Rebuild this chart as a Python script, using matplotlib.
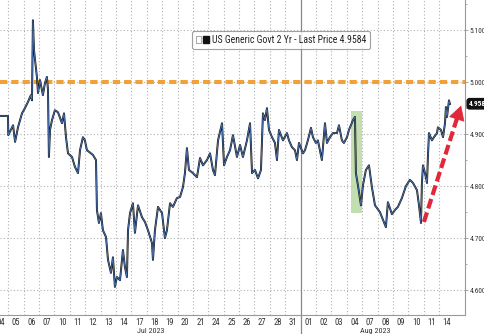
import matplotlib
matplotlib.use("Agg")
import matplotlib.pyplot as plt
from matplotlib.patches import Rectangle, Patch
from matplotlib.legend_handler import HandlerTuple
from matplotlib import font_manager
import numpy as np

# ---------------- data ----------------
day_labels = ['04', '05', '06', '07', '10', '11', '12', '13', '14', '17', '18', '19',
              '20', '21', '24', '25', '26', '27', '28', '31', '01', '02', '03', '04',
              '07', '08', '09', '10', '11', '14']
month_labels = ['Jul 2023', 'Aug 2023']
month_start_day = [0, 20]          # index of first trading day of each month

# session time in trading-day units (day i spans [i, i+1])
t_session = [0.00, 0.98, 1.00, 1.31, 1.44, 1.63, 1.89, 2.08, 2.28, 2.47, 2.54, 2.60,
             2.67, 2.74, 2.86, 2.93, 3.06, 3.25, 3.38, 3.51, 3.58, 3.64, 3.71, 3.84,
             4.03, 4.23, 4.49, 4.62, 4.75, 4.88, 5.14, 5.33, 5.53, 5.66, 5.85, 5.98,
             6.11, 6.37, 6.50, 6.70, 6.76, 6.89, 7.02, 7.15, 7.35, 7.48, 7.67, 7.80,
             7.93, 8.06, 8.26, 8.45, 8.58, 8.71, 8.78, 8.91, 9.10, 9.23, 9.43, 9.69,
             9.88, 10.08, 10.34, 10.40, 10.53, 10.73, 10.99, 11.18, 11.31, 11.51, 11.70,
             11.96, 12.16, 12.35, 12.48, 12.61, 12.74, 13.00, 13.26, 13.46, 13.65, 13.91,
             14.11, 14.30, 14.43, 14.63, 14.89, 15.02, 15.21, 15.41, 15.60, 15.86, 16.06,
             16.25, 16.51, 16.71, 16.84, 17.03, 17.23, 17.42, 17.55, 17.68, 17.81, 17.94,
             18.14, 18.33, 18.46, 18.59, 18.85, 19.11, 19.24, 19.43, 19.63, 19.76, 19.89,
             20.15, 20.28, 20.47, 20.67, 20.80, 20.99, 21.12, 21.38, 21.58, 21.71, 21.90,
             22.10, 22.36, 22.49, 22.68, 22.81, 23.01, 23.14, 23.40, 23.53, 23.59, 23.72,
             23.92, 24.05, 24.24, 24.44, 24.63, 24.83, 25.15, 25.35, 25.54, 25.67, 25.93,
             26.13, 26.32, 26.58, 26.84, 27.10, 27.30, 27.56, 27.69, 27.82, 27.88, 27.95,
             28.08, 28.21, 28.27, 28.34, 28.53, 28.66, 28.86, 28.92, 29.12, 29.25, 29.38,
             29.44, 29.51, 29.64, 29.70]
yield_2y = [4.935, 4.935, 4.898, 4.917, 4.885, 4.913, 4.940, 4.950, 4.962, 4.975, 4.965, 5.119,
            5.062, 5.042, 5.010, 4.979, 5.004, 4.975, 4.998, 5.010, 4.985, 4.856, 4.908, 4.927,
            4.946, 4.942, 4.921, 4.940, 4.894, 4.863, 4.856, 4.837, 4.825, 4.869, 4.894, 4.888,
            4.869, 4.863, 4.860, 4.850, 4.754, 4.729, 4.748, 4.715, 4.702, 4.658, 4.633, 4.663,
            4.606, 4.625, 4.619, 4.677, 4.644, 4.625, 4.715, 4.748, 4.767, 4.710, 4.763, 4.740,
            4.731, 4.715, 4.690, 4.658, 4.715, 4.760, 4.748, 4.700, 4.715, 4.767, 4.760,
            4.777, 4.779, 4.798, 4.825, 4.873, 4.831, 4.825, 4.817, 4.854, 4.840, 4.850,
            4.863, 4.831, 4.821, 4.888, 4.921, 4.840, 4.856, 4.869, 4.898, 4.856, 4.879,
            4.856, 4.888, 4.921, 4.825, 4.831, 4.815, 4.831, 4.940, 4.927, 4.950, 4.908,
            4.894, 4.883, 4.850, 4.908, 4.888, 4.902, 4.888, 4.875, 4.869, 4.850, 4.883,
            4.863, 4.869, 4.888, 4.912, 4.894, 4.883, 4.888, 4.850, 4.921, 4.883, 4.894,
            4.902, 4.902, 4.917, 4.888, 4.883, 4.894, 4.908, 4.927, 4.933, 4.825, 4.802,
            4.763, 4.802, 4.831, 4.840, 4.798, 4.763, 4.750, 4.735, 4.721, 4.769, 4.746,
            4.754, 4.760, 4.777, 4.800, 4.812, 4.806, 4.792, 4.763, 4.729, 4.806, 4.840,
            4.825, 4.806, 4.856, 4.902, 4.888, 4.894, 4.902, 4.913, 4.908, 4.894, 4.921,
            4.952, 4.933, 4.965, 4.958]

last_price = 4.9584
legend_text = 'US Generic Govt 2 Yr - Last Price 4.9584'
level_line = 5.000
highlight_t = (23.27, 23.98)
highlight_y = (4.748, 4.944)
arrow_from = (28.01, 4.731)
arrow_to = (30.48, 4.960)
y_ticks = [4.6, 4.7, 4.8, 4.9, 5.0, 5.1]
y_minor = [4.65, 4.75, 4.85, 4.95, 5.05, 5.15]

# ---------------- fonts ----------------
fl = font_manager.fontManager.ttflist
names = {f.name for f in fl}
stretch = 'normal'
if 'Liberation Sans Narrow' in names:
    fam = 'Liberation Sans Narrow'
elif 'Roboto Condensed' in names:
    fam = 'Roboto Condensed'
elif any(f.name == 'DejaVu Sans' and str(f.stretch) in ('condensed', '75', 'semi-condensed')
         for f in fl):
    fam = 'DejaVu Sans'
    stretch = 'condensed'
else:
    fam = 'Roboto'
plt.rcParams['font.family'] = [fam, 'DejaVu Sans']
plt.rcParams['font.stretch'] = stretch

W, H = 485, 334
fig = plt.figure(figsize=(W / 100, H / 100), dpi=100)
ax = fig.add_axes([0, 19 / H, 465 / W, 315 / H])
ax.set_xlim(0.4607, 30.68)
ax.set_ylim(4.552, 5.158)

txt = '#333333'
grid_c = '#b0b0b0'

# grids
for d in range(1, len(day_labels)):
    if d in month_start_day:
        continue
    ax.axvline(d, color=grid_c, lw=0.8, ls=(0, (1, 2)), zorder=0)
for yv in y_ticks:
    ax.axhline(yv, color=grid_c, lw=0.8, ls=(0, (1, 2)), zorder=0)

# month separator (extends below the axis)
for m in month_start_day[1:]:
    ax.axvline(m, color='#888888', lw=0.9, zorder=1)
    ax.plot([m, m], [0, -0.06], transform=ax.get_xaxis_transform(), color='#888888',
            lw=0.9, clip_on=False)

# highlight window
ax.add_patch(Rectangle((highlight_t[0], highlight_y[0]), highlight_t[1] - highlight_t[0],
                       highlight_y[1] - highlight_y[0], facecolor='#b9d9a3',
                       edgecolor='none', alpha=0.85, zorder=1))

# level line
ax.axhline(level_line, color='#f0a138', lw=2.9, dashes=(1.8, 1.0), zorder=2)

# series
ax.plot(t_session, yield_2y, color='#151515', lw=1.4, zorder=3)
ax.plot(t_session, yield_2y, color='#4a78bc', lw=0.6, zorder=4)

# red dashed arrow
ax.plot([arrow_from[0], arrow_from[0] + 0.93 * (arrow_to[0] - arrow_from[0])],
        [arrow_from[1], arrow_from[1] + 0.93 * (arrow_to[1] - arrow_from[1])],
        color='#e0283a', lw=3.0, dashes=(2.4, 1.0), solid_capstyle='butt', zorder=5,
        clip_on=False)
ax.annotate('', xy=arrow_to,
            xytext=(arrow_from[0] + 0.9 * (arrow_to[0] - arrow_from[0]),
                    arrow_from[1] + 0.9 * (arrow_to[1] - arrow_from[1])),
            arrowprops=dict(arrowstyle='-|>,head_width=0.45,head_length=0.8',
                            color='#e0283a', lw=0.5, mutation_scale=12),
            zorder=6, annotation_clip=False)

# axes styling
for s in ['top', 'left']:
    ax.spines[s].set_visible(False)
for s in ['right', 'bottom']:
    ax.spines[s].set_color('#999999')
    ax.spines[s].set_linewidth(0.8)

ax.yaxis.tick_right()
ax.set_yticks(y_ticks)
ax.set_yticks(y_minor, minor=True)
ax.set_yticklabels([f'{v:.3f}' for v in y_ticks])
ax.tick_params(axis='y', which='major', length=2.5, width=0.6, color='#999999', pad=1.0,
               labelsize=5.3, labelcolor=txt)
ax.tick_params(axis='y', which='minor', length=1.5, width=0.6, color='#999999')

xt = [i + 0.5 for i in range(len(day_labels))]
ax.set_xticks(xt)
ax.set_xticklabels(day_labels)
ax.tick_params(axis='x', length=0, pad=2.0, labelsize=6.2, labelcolor=txt)

# month labels
month_end = month_start_day[1:] + [29.7]
for lbl, a, b in zip(month_labels, month_start_day, month_end):
    c = (max(a, 0.4607) + b) / 2
    ax.text(c, -0.0575, lbl, transform=ax.get_xaxis_transform(), ha='center',
            va='baseline', fontsize=5.9, color=txt)

# last price tag
ax.text(1.007, last_price, f'{last_price:.3f}', transform=ax.get_yaxis_transform(),
        ha='left', va='center', fontsize=5.3, color='white', fontweight='bold',
        bbox=dict(boxstyle='round,pad=0.16,rounding_size=0.35', facecolor='#111111',
                  edgecolor='#111111'), clip_on=False)

# legend
handle = (Patch(facecolor='white', edgecolor='#999999', linewidth=0.6),
          Patch(facecolor='#111111', edgecolor='#111111'))
leg = ax.legend(handles=[handle], labels=[legend_text], loc='upper left',
                handler_map={tuple: HandlerTuple(ndivide=None, pad=0.15)},
                bbox_to_anchor=(192 / 465, 1 - 31 / 315),
                fontsize=7.0, frameon=True, fancybox=True, handlelength=1.3,
                handleheight=0.7, handletextpad=0.35, borderpad=0.4, borderaxespad=0)
leg.get_frame().set_edgecolor('#888888')
leg.get_frame().set_linewidth(0.8)
for t in leg.get_texts():
    t.set_color('#222222')

fig.savefig('out.png', dpi=100, facecolor='white')
